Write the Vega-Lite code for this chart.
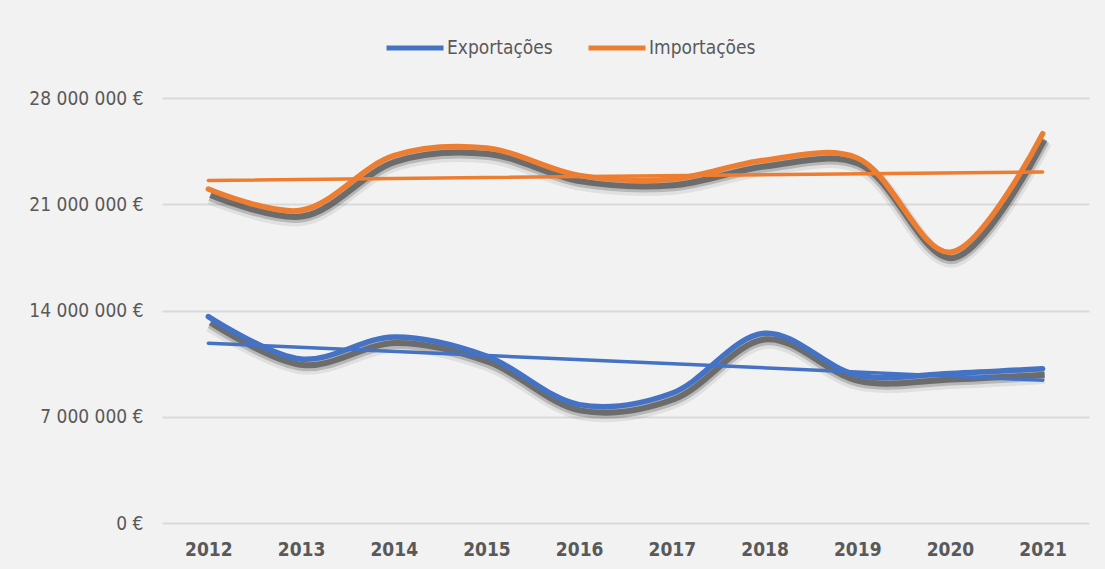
{
  "$schema": "https://vega.github.io/schema/vega-lite/v6.json",
  "width": 927,
  "height": 425,
  "autosize": "none",
  "padding": {"left": 162, "top": 98, "right": 16, "bottom": 46},
  "background": "#f2f2f2",
  "config": {
    "locale": {"number": {"decimal": ",", "thousands": " ", "grouping": [3], "currency": ["", " €"]}},
    "view": {"stroke": null},
    "font": "DejaVu Sans Condensed"
  },
  "data": {
    "values": [
      {"year": 2012, "series": "Exportações", "value": 13600000},
      {"year": 2013, "series": "Exportações", "value": 10800000},
      {"year": 2014, "series": "Exportações", "value": 12250000},
      {"year": 2015, "series": "Exportações", "value": 11000000},
      {"year": 2016, "series": "Exportações", "value": 7800000},
      {"year": 2017, "series": "Exportações", "value": 8550000},
      {"year": 2018, "series": "Exportações", "value": 12500000},
      {"year": 2019, "series": "Exportações", "value": 9750000},
      {"year": 2020, "series": "Exportações", "value": 9850000},
      {"year": 2021, "series": "Exportações", "value": 10170000},
      {"year": 2012, "series": "Importações", "value": 22000000},
      {"year": 2013, "series": "Importações", "value": 20600000},
      {"year": 2014, "series": "Importações", "value": 24200000},
      {"year": 2015, "series": "Importações", "value": 24700000},
      {"year": 2016, "series": "Importações", "value": 22900000},
      {"year": 2017, "series": "Importações", "value": 22650000},
      {"year": 2018, "series": "Importações", "value": 23900000},
      {"year": 2019, "series": "Importações", "value": 24050000},
      {"year": 2020, "series": "Importações", "value": 17840000},
      {"year": 2021, "series": "Importações", "value": 25650000}
    ]
  },
  "encoding": {
    "x": {
      "field": "year",
      "type": "ordinal",
      "scale": {"padding": 0.5},
      "axis": {
        "title": null,
        "labelAngle": 0,
        "domain": false,
        "ticks": false,
        "grid": false,
        "labelPadding": 17,
        "labelFont": "DejaVu Sans Condensed",
        "labelFontWeight": "bold",
        "labelFontSize": 19,
        "labelColor": "#595959"
      }
    },
    "y": {
      "field": "value",
      "type": "quantitative",
      "scale": {"domain": [0, 28000000], "nice": false},
      "axis": {
        "title": null,
        "values": [0, 7000000, 14000000, 21000000, 28000000],
        "format": "$,.0f",
        "domain": false,
        "ticks": false,
        "labelPadding": 19,
        "labelFont": "DejaVu Sans Condensed",
        "labelFontSize": 19,
        "labelColor": "#595959",
        "gridColor": "#d9d9d9",
        "gridWidth": 2
      }
    }
  },
  "layer": [
    {
      "mark": {"type": "line", "interpolate": "catmull-rom", "color": "#000000", "strokeWidth": 15, "opacity": 0.07, "yOffset": 8, "xOffset": 2},
      "encoding": {"detail": {"field": "series"}}
    },
    {
      "mark": {"type": "line", "interpolate": "catmull-rom", "color": "#000000", "strokeWidth": 10, "opacity": 0.18, "yOffset": 7, "xOffset": 2},
      "encoding": {"detail": {"field": "series"}}
    },
    {
      "mark": {"type": "line", "interpolate": "catmull-rom", "color": "#3a3a3a", "strokeWidth": 6, "opacity": 0.6, "yOffset": 6, "xOffset": 2},
      "encoding": {"detail": {"field": "series"}}
    },
    {
      "mark": {"type": "line", "interpolate": "catmull-rom", "strokeWidth": 5.5, "strokeCap": "round"},
      "encoding": {
        "color": {
          "field": "series",
          "type": "nominal",
          "scale": {"domain": ["Exportações", "Importações"], "range": ["#4472c4", "#ed7d31"]},
          "legend": {
            "title": null,
            "orient": "none",
            "direction": "horizontal",
            "legendX": 222,
            "legendY": -81,
            "symbolType": "stroke",
            "symbolSize": 3249,
            "symbolStrokeWidth": 5,
            "labelFont": "DejaVu Sans Condensed",
            "labelFontSize": 19,
            "labelColor": "#595959",
            "labelOffset": 1,
            "columnPadding": 25
          }
        }
      }
    },
    {
      "transform": [
        {"regression": "value", "on": "year", "groupby": ["series"], "method": "linear"}
      ],
      "mark": {"type": "line", "strokeWidth": 3.5, "strokeCap": "round"},
      "encoding": {
        "color": {"field": "series", "type": "nominal"}
      }
    }
  ]
}
